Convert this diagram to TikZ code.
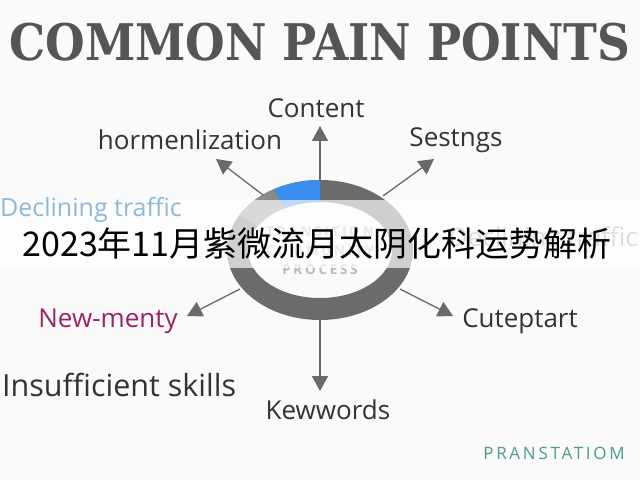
\documentclass[tikz,border=0pt]{standalone}
\usepackage{fontspec}
\setmainfont{Open Sans}
\newfontfamily\titlefont{DejaVu Serif Condensed}
\newfontfamily\cjkfont{Noto Sans CJK SC}
\newfontfamily\spacedfont[LetterSpace=16]{Open Sans}
\newfontfamily\ringfont[LetterSpace=20]{Open Sans}
\usetikzlibrary{arrows.meta}
\definecolor{bgwhite}{HTML}{FAFAFA}
\definecolor{titlegray}{HTML}{555555}
\definecolor{ringgray}{HTML}{6B6B6B}
\definecolor{ringmid}{HTML}{8A8A8A}
\definecolor{ringblue}{HTML}{3A8EEF}
\definecolor{textgray}{HTML}{333333}
\definecolor{linegray}{HTML}{6A6A6A}
\definecolor{fadeblue}{HTML}{8DB8DC}
\definecolor{plum}{HTML}{9A2466}
\definecolor{teal}{HTML}{4E9A8E}
\tikzstyle{title}=[inner sep=0pt, titlegray, font=\titlefont\bfseries\fontsize{50.5}{54}\selectfont]
\tikzstyle{painpoint}=[inner sep=0pt, textgray, font=\fontsize{26}{30}\selectfont]
\tikzstyle{inner text}=[inner sep=0pt, align=center, gray!55, font=\ringfont\bfseries\fontsize{13.5}{19}\selectfont]
\tikzstyle{link}=[->, linegray, line width=1.3pt, >={Triangle[length=15pt,width=16pt]}]
\tikzstyle{band}=[fill=white, fill opacity=.68]

\begin{document}
\begin{tikzpicture}[x=1pt,y=1pt]

    % Background
    \fill[bgwhite] (0,0) rectangle (640,480);
    \useasboundingbox (0,0) rectangle (640,480);

    % Title
    \draw (320,438) node[title] (title) {COMMON PAIN POINTS};

    % Ring
    \fill[ringgray,even odd rule] (320,230) ellipse[x radius=93,y radius=70]
        (320,230) ellipse[x radius=72,y radius=48];
    \begin{scope}[shift={(320,230)}]
        \fill[ringblue] (90:93 and 70) arc[start angle=90,end angle=120,x radius=93,y radius=70]
            -- (120:72 and 48) arc[start angle=120,end angle=90,x radius=72,y radius=48] -- cycle;
        \fill[ringmid] (120:93 and 70) arc[start angle=120,end angle=150,x radius=93,y radius=70]
            -- (150:72 and 48) arc[start angle=150,end angle=120,x radius=72,y radius=48] -- cycle;
    \end{scope}
    \draw (320,229) node[inner text] (process) {TRANSITION\\COMMUNITY\\PROCESS};

    % Arrow ends
    \coordinate (upA) at (320,299);    \coordinate (upB) at (320,354);
    \coordinate (ulA) at (263,285);    \coordinate (ulB) at (216,321);
    \coordinate (urA) at (383,284);    \coordinate (urB) at (434,321);
    \coordinate (dlA) at (240,191);    \coordinate (dlB) at (187,164);
    \coordinate (drA) at (400,191);    \coordinate (drB) at (453,164);
    \coordinate (dnA) at (320,160);    \coordinate (dnB) at (320,89);

    % Arrows
    \draw[link] (upA) -- (upB);
    \draw[link] (ulA) -- (ulB);
    \draw[link] (urA) -- (urB);
    \draw[link] (dlA) -- (dlB);
    \draw[link] (drA) -- (drB);
    \draw[link] (dnA) -- (dnB);

    % Pain points
    \draw (316,372) node[painpoint] (content) {Content};
    \draw (190,340) node[painpoint] (homen) {hormenlization};
    \draw (456,340) node[painpoint] (sestngs) {Sestngs};
    \draw (108,159) node[painpoint,plum] (newmenty) {New-menty};
    \draw (520,159) node[painpoint] (cutep) {Cuteptart};
    \draw (2,95) node[painpoint,anchor=west,font=\fontsize{30.5}{33}\selectfont] (skills) {Insufficient skills};
    \draw (328,70) node[painpoint] (kewwords) {Kewwords};
    \draw (638,240) node[painpoint,anchor=east,gray!80] (trafficR) {Declining traffic};

    % Overlay band
    \fill[band] (0,212) rectangle (640,280);
    \draw (0,270) node[painpoint,anchor=west,fadeblue,font=\fontsize{25}{28}\selectfont] (trafficL) {Declining traffic};
    \draw (317,236) node[inner sep=0pt, black, font=\cjkfont\fontsize{34}{38}\selectfont] (caption) {2023年11月紫微流月太阴化科运势解析};

    % Footer
    \draw (554,27) node[inner sep=0pt, teal, font=\spacedfont\fontsize{17}{20}\selectfont] (footer) {PRANSTATIOM};

\end{tikzpicture}
\end{document}
